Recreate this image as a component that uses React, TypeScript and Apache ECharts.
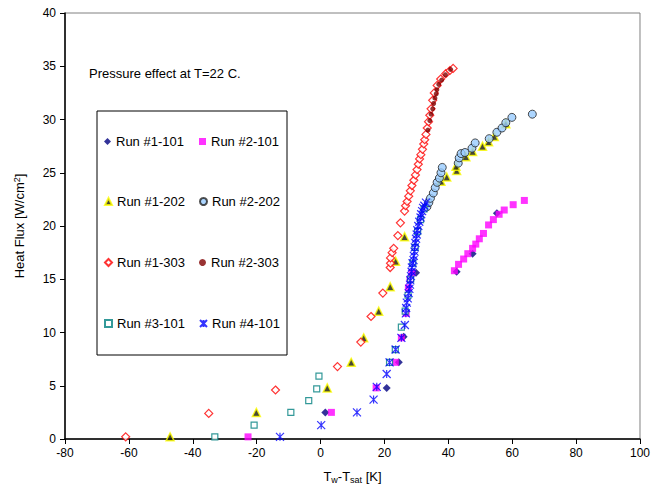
import React, { useEffect, useRef } from "react";
import * as echarts from "echarts";

const FONT = "'Liberation Sans', Arial, sans-serif";

const xTicks = { min: -80, max: 100, interval: 20 };
const yTicks = { min: 0, max: 40, interval: 5 };

const seriesNames = [
  "Run #1-101",
  "Run #2-101",
  "Run #1-202",
  "Run #2-202",
  "Run #1-303",
  "Run #2-303",
  "Run #3-101",
  "Run #4-101",
];

const run1_101 = [
  [1.5, 2.5], [20.7, 4.8], [24.5, 7.2], [26.0, 9.6], [29.9, 15.6],
  [42.6, 15.7], [47.6, 17.4], [55.2, 21.2],
];

const run2_101 = [
  [-22.7, 0.2], [3.4, 2.5], [17.4, 4.8], [23.4, 7.2], [25.3, 9.5], [26.8, 11.8],
  [27.5, 14.2], [28.0, 15.0], [28.6, 15.6],
  [41.9, 15.8], [43.2, 16.4], [44.8, 16.9], [46.1, 17.4], [47.6, 17.9], [48.6, 18.3],
  [49.7, 18.8], [51.0, 19.3], [52.6, 20.1], [54.1, 20.6], [55.9, 21.1], [57.5, 21.5],
  [60.3, 22.0], [63.8, 22.4],
];

const run1_202 = [
  [-47.1, 0.2], [-20.1, 2.5], [2.1, 4.8], [9.6, 7.2], [13.5, 9.5], [18.2, 12.0],
  [21.8, 14.3], [23.5, 16.7], [26.3, 19.0], [37.7, 24.2], [39.5, 24.6],
  [42.6, 25.2], [42.4, 25.6], [45.5, 26.5], [47.6, 27.0], [50.7, 27.5],
  [52.6, 27.9], [54.4, 28.4], [58.0, 29.6],
];

const run2_202 = [
  [33.3, 21.8], [33.9, 22.2], [34.4, 22.6], [35.3, 23.1], [35.9, 23.6], [36.5, 24.1],
  [37.2, 24.5], [37.7, 25.0], [38.1, 25.5], [43.1, 25.9], [43.4, 26.4], [44.0, 26.8],
  [45.2, 26.9], [47.4, 27.3], [48.4, 27.8], [52.8, 28.2], [55.2, 28.8], [56.8, 29.2],
  [58.0, 29.7], [59.9, 30.2], [66.3, 30.5],
];

const run1_303 = [
  [-61.0, 0.2], [-35.0, 2.4], [-14.1, 4.6], [5.3, 6.8], [12.6, 9.1], [15.8, 11.5],
  [19.5, 13.7], [21.8, 16.1], [21.9, 16.5], [21.9, 17.0], [22.4, 17.5], [22.9, 17.9],
  [24.2, 19.1], [25.0, 20.3], [26.3, 21.4], [26.6, 21.9], [27.1, 22.3], [27.6, 22.8],
  [28.1, 23.3], [28.6, 23.8], [29.2, 24.3], [29.7, 24.8], [30.2, 25.3], [30.6, 25.8],
  [31.0, 26.3], [31.4, 26.7], [31.9, 27.2], [32.3, 27.7], [32.6, 28.1], [33.0, 28.6],
  [33.4, 29.2], [33.8, 29.8], [34.2, 30.4], [34.6, 31.0], [35.1, 31.8], [35.6, 32.5],
  [36.5, 33.2], [37.6, 33.8], [39.2, 34.3], [40.5, 34.6], [41.5, 34.8],
];

const run2_303 = [
  [33.6, 29.0], [34.2, 29.9], [34.6, 30.5], [35.1, 31.0], [35.4, 31.5], [35.8, 32.0],
  [36.2, 32.4], [36.4, 32.8], [37.0, 33.3], [37.9, 33.7], [39.1, 34.2], [40.7, 34.7],
];

const run3_101 = [
  [-33.1, 0.2], [-20.8, 1.3], [-9.3, 2.5], [-3.7, 3.6], [-1.2, 4.7], [-0.5, 5.9],
  [21.6, 7.2], [23.4, 8.4], [25.3, 10.5], [26.5, 12.0], [27.4, 13.5], [28.2, 15.0],
  [28.9, 16.5], [29.6, 18.0], [30.4, 19.5], [31.3, 20.6], [32.4, 21.6],
];

const run4_101 = [
  [-12.7, 0.2], [0.2, 1.3], [11.4, 2.5], [16.6, 3.7], [17.6, 4.9], [20.7, 6.1],
  [21.6, 7.2], [23.5, 8.4], [25.3, 9.5], [26.4, 10.7], [26.7, 11.8], [26.8, 12.3],
  [27.0, 12.8], [27.3, 13.2], [27.6, 13.7], [27.8, 14.1], [28.0, 14.5], [28.1, 14.9],
  [28.3, 15.3], [28.5, 15.7], [28.6, 16.1], [28.8, 16.5], [29.1, 16.8], [29.2, 17.2],
  [29.4, 17.6], [29.5, 18.0], [29.7, 18.4], [29.9, 18.8], [30.1, 19.2], [30.3, 19.6],
  [30.6, 20.0], [30.9, 20.4], [31.3, 20.8], [31.5, 21.1], [31.8, 21.4], [32.1, 21.7],
  [32.5, 21.9], [33.0, 22.2],
];

const annotation = "Pressure effect at T=22 C.";

const STAR = "path://M0,0L10,10M10,0L0,10M5,0L5,10";

export default function App() {
  const ref = useRef<HTMLDivElement>(null);
  useEffect(() => {
    if (!ref.current) return;
    const chart = echarts.init(ref.current, null, { renderer: "svg" });

    const styles: any[] = [
      { data: run1_101, symbol: "diamond", symbolSize: 8, itemStyle: { color: "#000080" } },
      { data: run2_101, symbol: "rect", symbolSize: 7, itemStyle: { color: "#ff00ff" } },
      { data: run1_202, symbol: "triangle", symbolSize: 8, itemStyle: { color: "#1a1a00", borderColor: "#ffff00", borderWidth: 1.5 } },
      { data: run2_202, symbol: "circle", symbolSize: 8, itemStyle: { color: "#99ccff", borderColor: "#222222", borderWidth: 1 } },
      { data: run1_303, symbol: "diamond", symbolSize: 8, itemStyle: { color: "#ffffff", borderColor: "#ff0000", borderWidth: 1.2 } },
      { data: run2_303, symbol: "circle", symbolSize: 5, itemStyle: { color: "#800000" } },
      { data: run3_101, symbol: "rect", symbolSize: 6, itemStyle: { color: "#ffffff", borderColor: "#008080", borderWidth: 1.2 } },
      { data: run4_101, symbol: STAR, symbolSize: 8, itemStyle: { color: "#0000ff", borderColor: "#0000ff", borderWidth: 1.2 } },
    ];

    const series = seriesNames.map((name, i) => ({
      name,
      type: "scatter",
      ...styles[i],
    }));

    const legendPos = [
      [104, 135], [199, 135],
      [104, 195], [199, 195],
      [104, 256], [199, 256],
      [104, 317], [199, 317],
    ];
    const legends = seriesNames.map((name, i) => ({
      data: [name],
      left: legendPos[i][0],
      top: legendPos[i][1],
      padding: 0,
      itemWidth: 7,
      itemHeight: 7,
      selectedMode: false,
      textStyle: { fontFamily: FONT, fontSize: 13, color: "#000" },
    }));

    chart.setOption({
      animation: false,
      backgroundColor: "#ffffff",
      grid: {
        left: 65, right: 12, top: 13, bottom: 51,
        show: true, borderColor: "#808080", borderWidth: 1,
      },
      xAxis: {
        type: "value",
        ...xTicks,
        name: "{t|T}{s|w}{t|-T}{s|sat}{t| [K]}",
        nameLocation: "middle",
        nameGap: 30,
        nameTextStyle: {
          rich: {
            t: { fontFamily: FONT, fontSize: 13, color: "#000" },
            s: { fontFamily: FONT, fontSize: 9, color: "#000", padding: [6, 0, 0, 0] },
          },
        },
        axisLine: { show: true, onZero: false, lineStyle: { color: "#000", width: 1.5 } },
        axisTick: { show: true, length: 5, lineStyle: { color: "#000" } },
        axisLabel: { fontFamily: FONT, fontSize: 12, color: "#000", margin: 8 },
        splitLine: { show: false },
      },
      yAxis: {
        type: "value",
        ...yTicks,
        name: "{t|Heat Flux [W/cm}{p|2}{t|]}",
        nameLocation: "middle",
        nameGap: 38,
        nameRotate: 90,
        nameTextStyle: {
          rich: {
            t: { fontFamily: FONT, fontSize: 13, color: "#000" },
            p: { fontFamily: FONT, fontSize: 9, color: "#000", padding: [0, 0, 6, 0] },
          },
        },
        axisLine: { show: true, onZero: false, lineStyle: { color: "#000", width: 1.5 } },
        axisTick: { show: true, length: 5, lineStyle: { color: "#000" } },
        axisLabel: { fontFamily: FONT, fontSize: 12, color: "#000", margin: 9 },
        splitLine: { show: false },
      },
      legend: legends,
      graphic: [
        {
          type: "rect",
          shape: { x: 97, y: 111, width: 190, height: 244 },
          style: { fill: "#ffffff", stroke: "#000", lineWidth: 1 },
          z: 3,
        },
        {
          type: "text",
          left: 89,
          top: 67,
          style: { text: annotation, fontFamily: FONT, fontSize: 13, fill: "#000" },
          z: 5,
        },
      ],
      series,
    });
    return () => chart.dispose();
  }, []);
  return (
    <div
      ref={ref}
      style={{ position: "absolute", left: 0, top: 0, width: 653, height: 490 }}
    />
  );
}
